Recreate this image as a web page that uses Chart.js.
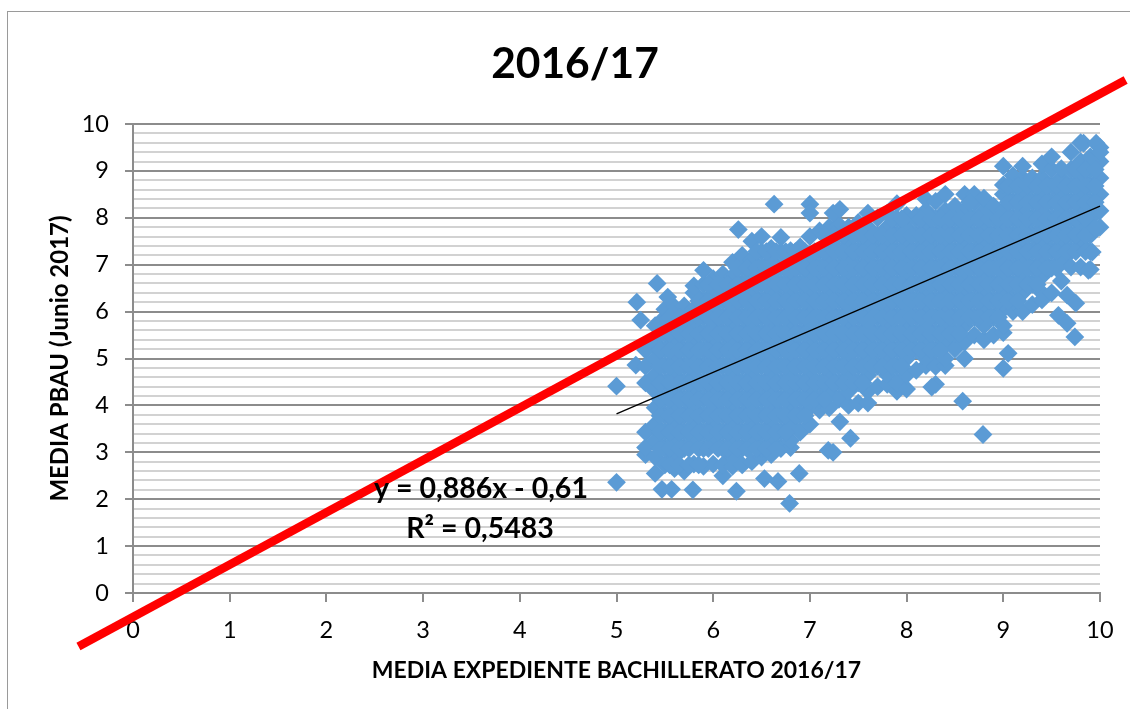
<!DOCTYPE html>
<html>
<head>
<meta charset="utf-8">
<title>2016/17</title>
<script src="https://cdn.jsdelivr.net/npm/chart.js@4"></script>
<style>
  html, body { margin: 0; padding: 0; background: #fff; overflow: hidden; }
  #frame { position: absolute; left: 7px; top: 11px; width: 1130px; height: 720px; border: 1.5px solid #9a9a9a; }
  canvas { position: absolute; left: 0; top: 0; }
</style>
</head>
<body>
<div id="frame"></div>
<canvas id="myChart" width="1130" height="709"></canvas>
<script>
const chartTitle = '2016/17';
const xTitle = 'MEDIA EXPEDIENTE BACHILLERATO 2016/17';
const yTitle = 'MEDIA PBAU (Junio 2017)';
const equationLines = ['y = 0,886x - 0,61', 'R² = 0,5483'];

// columnas de la nube
const columnX = [5.2,5.3,5.4,5.5,5.6,5.7,5.8,5.9,6.0,6.1,6.2,6.3,6.4,6.5,6.6,6.7,6.8,6.9,7.0,7.1,7.2,7.3,7.4,7.5,7.6,7.7,7.8,7.9,8.0,8.1,8.2,8.3,8.4,8.5,8.6,8.7,8.8,8.9,9.0,9.1,9.2,9.3,9.4,9.5,9.6,9.7,9.8,9.9,10];
const columnY = [
  [4.86],
  [2.95,3.1,3.43,4.48,4.83,5.18],
  [2.55,2.9,3.25,3.6,3.95,4.3,4.65,5.0,5.35,5.7],
  [2.73,3.08,3.43,3.78,4.13,4.48,4.83,5.18,5.53,5.88,6.05],
  [2.65,2.9,3.25,3.6,3.95,4.3,4.65,5.0,5.35,5.7,6.1],
  [2.6,3.08,3.43,3.78,4.13,4.48,4.83,5.18,5.53,5.88,6.12],
  [2.75,3.25,3.6,3.95,4.3,4.65,5.0,5.35,5.7,6.05,6.4,6.55],
  [2.7,3.08,3.43,3.78,4.13,4.48,4.83,5.18,5.53,5.88,6.23,6.58,6.88],
  [2.75,3.25,3.6,3.95,4.3,4.65,5.0,5.35,5.7,6.05,6.4,6.7],
  [2.5,2.73,3.08,3.43,3.78,4.13,4.48,4.83,5.18,5.53,5.88,6.23,6.58,6.8],
  [2.7,2.9,3.25,3.6,3.95,4.3,4.65,5.0,5.35,5.7,6.05,6.4,6.75,7.05],
  [2.73,3.08,3.43,3.78,4.13,4.48,4.83,5.18,5.53,5.88,6.23,6.58,6.93,7.2],
  [2.8,3.25,3.6,3.95,4.3,4.65,5.0,5.35,5.7,6.05,6.4,6.75,7.1,7.5],
  [2.9,3.08,3.43,3.78,4.13,4.48,4.83,5.18,5.53,5.88,6.23,6.58,6.93,7.28,7.6],
  [2.95,3.25,3.6,3.95,4.3,4.65,5.0,5.35,5.7,6.05,6.4,6.75,7.1,7.35],
  [3.08,3.43,3.78,4.13,4.48,4.83,5.18,5.53,5.88,6.23,6.58,6.93,7.28,7.58],
  [3.1,3.25,3.6,3.95,4.3,4.65,5.0,5.35,5.7,6.05,6.4,6.75,7.1,7.3],
  [3.43,3.78,4.13,4.48,4.83,5.18,5.53,5.88,6.23,6.58,6.93,7.38],
  [3.6,3.95,4.3,4.65,5.0,5.35,5.7,6.05,6.4,6.75,7.1,7.6],
  [3.9,4.13,4.48,4.83,5.18,5.53,5.88,6.23,6.58,6.93,7.28,7.72],
  [3.95,4.3,4.65,5.0,5.35,5.7,6.05,6.4,6.75,7.1,7.45,7.8],
  [4.13,4.48,4.83,5.18,5.53,5.88,6.23,6.58,6.93,7.28,7.63,7.85],
  [4.0,4.3,4.65,5.0,5.35,5.7,6.05,6.4,6.75,7.1,7.45,7.8],
  [4.05,4.48,4.83,5.18,5.53,5.88,6.23,6.58,6.93,7.28,7.63,7.9],
  [4.05,4.3,4.65,5.0,5.35,5.7,6.05,6.4,6.75,7.1,7.45,7.8,8.1],
  [4.4,4.83,5.18,5.53,5.88,6.23,6.58,6.93,7.28,7.63,8.0],
  [4.45,4.65,5.0,5.35,5.7,6.05,6.4,6.75,7.1,7.45,7.8,8.1],
  [4.3,4.48,4.83,5.18,5.53,5.88,6.23,6.58,6.93,7.28,7.63,7.98,8.3],
  [4.35,4.65,5.0,5.35,5.7,6.05,6.4,6.75,7.1,7.45,7.8,8.05],
  [4.75,5.18,5.53,5.88,6.23,6.58,6.93,7.28,7.63,7.98,8.05],
  [4.85,5.0,5.35,5.7,6.05,6.4,6.75,7.1,7.45,7.8,8.15,8.4],
  [4.45,4.83,5.18,5.53,5.88,6.23,6.58,6.93,7.28,7.63,7.98,8.35],
  [4.85,5.0,5.35,5.7,6.05,6.4,6.75,7.1,7.45,7.8,8.15,8.5],
  [5.2,5.53,5.88,6.23,6.58,6.93,7.28,7.63,7.98,8.25],
  [5.0,5.35,5.7,6.05,6.4,6.75,7.1,7.45,7.8,8.15,8.5],
  [5.5,5.88,6.23,6.58,6.93,7.28,7.63,7.98,8.33,8.5],
  [5.4,5.7,6.05,6.4,6.75,7.1,7.45,7.8,8.15,8.42],
  [5.5,5.88,6.23,6.58,6.93,7.28,7.63,7.98,8.25],
  [5.55,5.7,6.05,6.4,6.75,7.1,7.45,7.8,8.15,8.5,8.7,9.1],
  [6.0,6.23,6.58,6.93,7.28,7.63,7.98,8.33,8.68,8.9],
  [6.0,6.4,6.75,7.1,7.45,7.8,8.15,8.5,8.85,9.1],
  [6.15,6.58,6.93,7.28,7.63,7.98,8.33,8.68,8.85],
  [6.25,6.4,6.75,7.1,7.45,7.8,8.15,8.5,8.85,9.15],
  [6.4,6.93,7.28,7.63,7.98,8.33,8.68,9.03,9.3],
  [6.65,7.1,7.45,7.8,8.15,8.5,8.85,9.05],
  [6.95,7.28,7.63,7.98,8.33,8.68,9.03,9.4],
  [6.95,7.45,7.8,8.15,8.5,8.85,9.2,9.6],
  [6.9,7.28,7.63,7.98,8.33,8.68,9.03,9.3],
  [7.8,8.15,8.5,8.85,9.2,9.5]
];

// interior de la nube, entre columnas
const innerX = [5.45,5.55,5.65,5.75,5.85,5.95,6.05,6.15,6.25,6.35,6.45,6.55,6.65,6.75,6.85,6.95,7.05,7.15,7.25,7.35,7.45,7.55,7.65,7.75,7.85,7.95,8.05,8.15,8.25,8.35,8.45,8.55,8.65,8.75,8.85,8.95,9.05,9.15,9.25,9.35,9.45,9.55,9.65,9.75,9.85,9.95];
const innerY = [
  [3.08,3.43,3.78,4.13,4.48,4.83,5.18,5.53],
  [2.73,3.08,3.43,3.78,4.13,4.48,4.83,5.18,5.53,5.88],
  [2.73,3.08,3.43,3.78,4.13,4.48,4.83,5.18,5.53,5.88],
  [2.73,3.08,3.43,3.78,4.13,4.48,4.83,5.18,5.53,5.88],
  [2.73,3.08,3.43,3.78,4.13,4.48,4.83,5.18,5.53,5.88,6.23],
  [3.08,3.43,3.78,4.13,4.48,4.83,5.18,5.53,5.88,6.23,6.58],
  [3.08,3.43,3.78,4.13,4.48,4.83,5.18,5.53,5.88,6.23,6.58],
  [3.08,3.43,3.78,4.13,4.48,4.83,5.18,5.53,5.88,6.23,6.58],
  [3.08,3.43,3.78,4.13,4.48,4.83,5.18,5.53,5.88,6.23,6.58,6.93],
  [3.08,3.43,3.78,4.13,4.48,4.83,5.18,5.53,5.88,6.23,6.58,6.93],
  [3.08,3.43,3.78,4.13,4.48,4.83,5.18,5.53,5.88,6.23,6.58,6.93,7.28],
  [3.08,3.43,3.78,4.13,4.48,4.83,5.18,5.53,5.88,6.23,6.58,6.93,7.28],
  [3.08,3.43,3.78,4.13,4.48,4.83,5.18,5.53,5.88,6.23,6.58,6.93,7.28],
  [3.43,3.78,4.13,4.48,4.83,5.18,5.53,5.88,6.23,6.58,6.93,7.28],
  [3.78,4.13,4.48,4.83,5.18,5.53,5.88,6.23,6.58,6.93,7.28],
  [3.78,4.13,4.48,4.83,5.18,5.53,5.88,6.23,6.58,6.93,7.28],
  [4.13,4.48,4.83,5.18,5.53,5.88,6.23,6.58,6.93,7.28],
  [4.13,4.48,4.83,5.18,5.53,5.88,6.23,6.58,6.93,7.28,7.63],
  [4.48,4.83,5.18,5.53,5.88,6.23,6.58,6.93,7.28,7.63],
  [4.48,4.83,5.18,5.53,5.88,6.23,6.58,6.93,7.28,7.63],
  [4.48,4.83,5.18,5.53,5.88,6.23,6.58,6.93,7.28,7.63],
  [4.48,4.83,5.18,5.53,5.88,6.23,6.58,6.93,7.28,7.63],
  [4.83,5.18,5.53,5.88,6.23,6.58,6.93,7.28,7.63],
  [4.83,5.18,5.53,5.88,6.23,6.58,6.93,7.28,7.63],
  [4.83,5.18,5.53,5.88,6.23,6.58,6.93,7.28,7.63,7.98],
  [4.83,5.18,5.53,5.88,6.23,6.58,6.93,7.28,7.63,7.98],
  [5.18,5.53,5.88,6.23,6.58,6.93,7.28,7.63],
  [5.18,5.53,5.88,6.23,6.58,6.93,7.28,7.63,7.98],
  [5.18,5.53,5.88,6.23,6.58,6.93,7.28,7.63,7.98],
  [5.18,5.53,5.88,6.23,6.58,6.93,7.28,7.63,7.98],
  [5.53,5.88,6.23,6.58,6.93,7.28,7.63,7.98],
  [5.53,5.88,6.23,6.58,6.93,7.28,7.63,7.98],
  [5.88,6.23,6.58,6.93,7.28,7.63,7.98,8.33],
  [5.88,6.23,6.58,6.93,7.28,7.63,7.98],
  [5.88,6.23,6.58,6.93,7.28,7.63,7.98],
  [5.88,6.23,6.58,6.93,7.28,7.63,7.98],
  [6.23,6.58,6.93,7.28,7.63,7.98,8.33,8.68],
  [6.23,6.58,6.93,7.28,7.63,7.98,8.33,8.68],
  [6.58,6.93,7.28,7.63,7.98,8.33,8.68],
  [6.58,6.93,7.28,7.63,7.98,8.33,8.68],
  [6.93,7.28,7.63,7.98,8.33,8.68],
  [6.93,7.28,7.63,7.98,8.33,8.68],
  [7.28,7.63,7.98,8.33,8.68],
  [7.28,7.63,7.98,8.33,8.68,9.03],
  [7.28,7.63,7.98,8.33,8.68,9.03],
  [8.33,8.68,9.03]
];

// puntos sueltos
const outlierX = [5.0,5.0,5.21,5.25,5.42,5.53,5.47,5.57,5.79,6.26,6.24,6.53,6.67,6.63,6.79,6.89,7.0,7.0,7.19,7.24,7.24,7.31,7.31,7.42,8.26,8.58,8.79,9.0,9.05,9.57,9.66,9.74,9.66,9.75,9.88,9.92,9.95,9.83,9.96,10];
const outlierY = [4.41,2.36,6.2,5.82,6.6,6.31,2.21,2.21,2.2,7.75,2.17,2.44,2.38,8.29,1.91,2.55,8.29,8.1,3.04,3.0,8.1,3.65,8.18,3.3,4.39,4.09,3.38,4.79,5.11,5.92,5.75,5.46,6.35,6.18,6.88,7.27,7.78,9.59,9.59,9.4];

const trendX = [5, 10];
const trendY = [3.82, 8.25];
const redX = [-0.564, 10.265];
const redY = [-1.142, 10.94];

const xTickValues = [0,1,2,3,4,5,6,7,8,9,10];

const isMajor = v => Math.abs(v - Math.round(v)) < 1e-6;
const toPoints = (xs, ys) => xs.map((x, i) => ({ x: x, y: ys[i] }));
const fromColumns = (xs, ys) => xs.flatMap((x, i) => ys[i].map(y => ({ x: x, y: y })));

const cloud = fromColumns(columnX, columnY)
  .concat(fromColumns(innerX, innerY))
  .concat(toPoints(outlierX, outlierY));

const textPlugin = {
  id: 'textos',
  afterDatasetsDraw(chart) {
    const { ctx } = chart;
    ctx.save();
    ctx.fillStyle = '#000';
    ctx.textAlign = 'center';
    ctx.textBaseline = 'middle';
    ctx.font = 'bold 42.5px Lato';
    ctx.fillText(chartTitle, 575, 64.5);
    ctx.font = 'bold 28.5px Lato';
    ctx.fillText(equationLines[0], 481, 489);
    ctx.fillText(equationLines[1], 480, 529);
    ctx.restore();
  }
};

new Chart(document.getElementById('myChart'), {
  type: 'scatter',
  data: {
    datasets: [
      { data: toPoints(redX, redY), showLine: true, borderColor: '#ff0000', borderWidth: 8.5, pointRadius: 0, clip: false },
      { data: toPoints(trendX, trendY), showLine: true, borderColor: '#000000', borderWidth: 1.3, pointRadius: 0, clip: false },
      { data: cloud, pointStyle: 'rectRot', pointRadius: 9.4, pointHoverRadius: 9.4, backgroundColor: '#5b9bd5', borderWidth: 0, clip: false }
    ]
  },
  plugins: [textPlugin],
  options: {
    responsive: false,
    animation: false,
    layout: { padding: { top: 124, right: 30, left: 46, bottom: 21 } },
    plugins: {
      legend: { display: false },
      tooltip: { enabled: false },
      title: { display: false }
    },
    scales: {
      x: {
        type: 'linear',
        min: 0,
        max: 10,
        afterFit(scale) { scale.height = 95; },
        afterBuildTicks(scale) { scale.ticks = xTickValues.map(v => ({ value: v })); },
        border: { color: '#8c8c8c', width: 2 },
        grid: { drawOnChartArea: false, color: '#8c8c8c', lineWidth: 2, tickLength: 9 },
        ticks: { color: '#000', font: { family: 'Lato', size: 23.5 }, maxRotation: 0, padding: 14 },
        title: { display: true, text: xTitle, color: '#000', font: { family: 'Lato', size: 23, weight: 'bold' }, padding: { top: 10 } }
      },
      y: {
        type: 'linear',
        min: 0,
        max: 10,
        afterFit(scale) { scale.width = 87; },
        border: { color: '#8c8c8c', width: 2 },
        grid: {
          color: ctx => isMajor(ctx.tick.value) ? '#8c8c8c' : '#d2d2d2',
          tickColor: ctx => isMajor(ctx.tick.value) ? '#8c8c8c' : 'rgba(0,0,0,0)',
          lineWidth: 2,
          tickLength: 8
        },
        ticks: {
          stepSize: 0.2,
          autoSkip: false,
          color: '#000',
          font: { family: 'Lato', size: 23.5 },
          padding: 16,
          callback: v => isMajor(v) ? String(Math.round(v)) : ''
        },
        title: { display: true, text: yTitle, color: '#000', font: { family: 'Lato', size: 24, weight: 'bold' }, padding: { top: 0, bottom: 0 } }
      }
    }
  }
});
</script>
</body>
</html>
